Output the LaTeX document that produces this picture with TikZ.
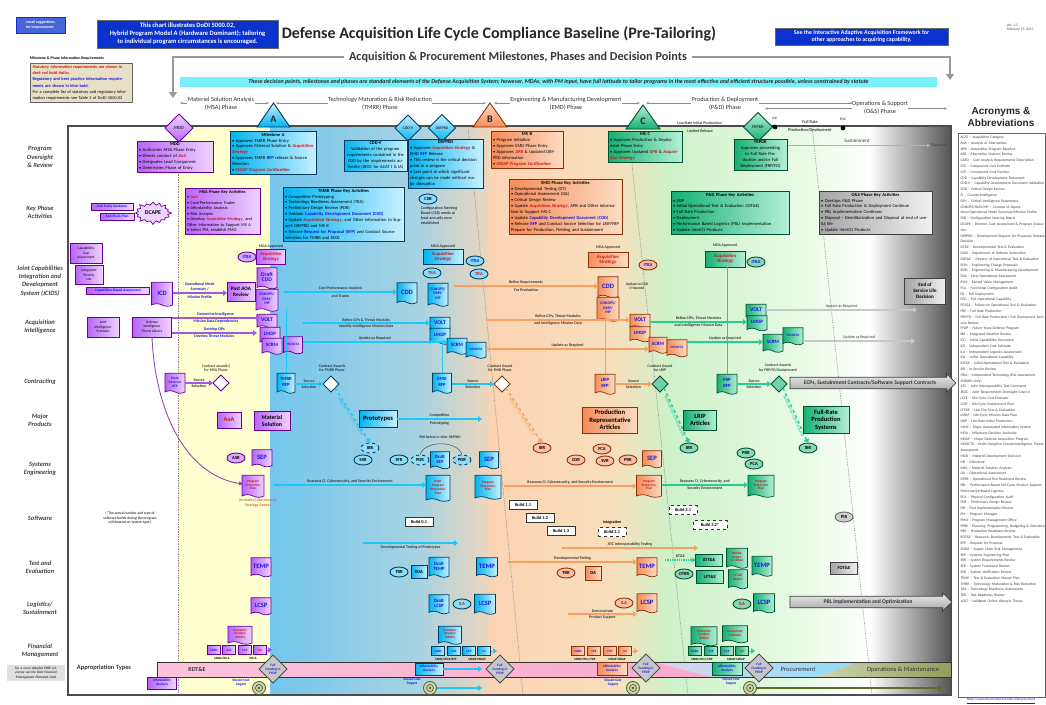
\documentclass[tikz,border=0pt]{standalone}
\usepackage{fontspec}
\setmainfont{Carlito}
\newfontfamily\arialf{Liberation Sans}
\usetikzlibrary{shapes.geometric,shapes.symbols,shapes.arrows,arrows.meta,calc}
\definecolor{pd}{RGB}{102,0,153}
\definecolor{pf}{RGB}{185,100,250}
\definecolor{pl}{RGB}{238,210,255}
\definecolor{bd}{RGB}{0,60,100}
\definecolor{bf}{RGB}{0,180,240}
\definecolor{bl}{RGB}{200,240,255}
\definecolor{od}{RGB}{140,50,10}
\definecolor{of}{RGB}{245,140,90}
\definecolor{ol}{RGB}{253,220,195}
\definecolor{gd}{RGB}{0,80,50}
\definecolor{gf}{RGB}{20,175,115}
\definecolor{gl}{RGB}{180,240,215}
\definecolor{gyf}{RGB}{165,165,165}
\definecolor{gyl}{RGB}{240,240,240}
\definecolor{rtx}{RGB}{205,20,20}
\definecolor{btx}{RGB}{20,20,225}
\definecolor{lbl}{RGB}{65,65,65}
\definecolor{navy}{RGB}{10,50,205}
\definecolor{cyanb}{RGB}{120,240,250}
\definecolor{oliv}{RGB}{115,135,45}
\definecolor{pinkb}{RGB}{250,170,205}
\definecolor{tanb}{RGB}{232,224,198}
\definecolor{bandY}{RGB}{255,255,208}
\definecolor{bandB1}{RGB}{115,198,238}
\definecolor{bandB2}{RGB}{168,211,226}
\definecolor{bandT}{RGB}{238,214,188}
\definecolor{bandO}{RGB}{252,212,180}
\definecolor{bandO2}{RGB}{248,222,188}
\definecolor{bandG1}{RGB}{205,242,200}
\definecolor{bandG2}{RGB}{232,250,228}
\definecolor{bandGr}{RGB}{85,85,85}
\definecolor{apur}{RGB}{165,85,225}
\definecolor{acy}{RGB}{30,200,245}
\definecolor{aor}{RGB}{248,160,95}
\definecolor{agr}{RGB}{40,205,150}
\newcommand\fsz[2]{\fontsize{#1}{#2}\selectfont}
\newcommand\rdt[1]{\textcolor{rtx}{\textbf{\textit{#1}}}}
\newcommand\blt[1]{\textcolor{btx}{\textbf{#1}}}
\newcommand\bul{\textbullet\ }
\newcommand\bxt[1]{\makebox[\hsize][c]{\textbf{#1}}\\}
\begin{document}
\begin{tikzpicture}[x=1pt,y=-1pt,
  every node/.style={inner sep=0.8pt, outer sep=0pt},
  base/.style={draw, line width=0.7pt, align=center},
  pbox/.style={base, draw=pd, left color=pf, right color=pl},
  bbox/.style={base, draw=bd, left color=bf, right color=bl},
  obox/.style={base, draw=od, left color=of, right color=ol},
  gbox/.style={base, draw=gd, left color=gf, right color=gl},
  gybox/.style={base, draw=black!75, left color=gyf, right color=gyl},
  docs/.style={shape=tape, tape bend top=none, tape bend bottom=out and in, tape bend height=2.5pt},
  keyb/.style={align=left, font=\fsz{4.5}{5.9}, inner sep=2pt},
  dt/.style={font=\fsz{6.6}{6.8}\bfseries, text=btx},
  dt2/.style={font=\fsz{4.7}{5.1}\bfseries, text=btx},
  dtr/.style={font=\fsz{3.4}{3.9}\bfseries, text=rtx},
  ell/.style={ellipse, draw, line width=0.9pt, inner sep=0.3pt, minimum width=18pt, minimum height=10pt, font=\fsz{4.6}{5}\bfseries},
  pell/.style={ell, draw=pd, fill=pf!55},
  bell/.style={ell, draw=bd, fill=bf!45},
  oell/.style={ell, draw=od, fill=of!55},
  gell/.style={ell, draw=gd, fill=gf!50},
  rowlab/.style={font=\fsz{6.5}{8.3}\bfseries\itshape, text=lbl, align=center},
  tiny/.style={font=\fsz{3.9}{4.6}, align=center},
  al/.style={font=\fsz{3.9}{4.6}\bfseries, text=black!80, align=center},
  alb/.style={al, text=btx},
  ar/.style={-{Triangle[length=4pt,width=5.5pt]}, line width=1.5pt},
  arP/.style={ar, draw=apur},
  arB/.style={ar, draw=acy},
  arO/.style={ar, draw=aor},
  arG/.style={ar, draw=agr},
  arGy/.style={ar, draw=black!22},
  cdia/.style={diamond, draw, line width=0.9pt, minimum size=16pt, inner sep=0pt},
  bld/.style={draw=black!80, fill=white, line width=0.7pt, font=\fsz{4.4}{5}\bfseries, minimum width=28pt, minimum height=9pt},
  ffd/.style={diamond, draw=black!70, line width=0.8pt, fill=black!22, minimum size=28pt, inner sep=0pt, font=\fsz{3.4}{3.9}\bfseries, text=btx, align=center},
  fb/.style={base, minimum width=13pt, minimum height=9pt, font=\fsz{3.2}{3.6}\bfseries, text=btx, inner sep=0.3pt},
  tgt/.style={circle, draw=oliv!70!black, line width=0.8pt, fill=oliv!35, minimum size=13pt, inner sep=0pt,
     path picture={\draw[oliv!70!black, line width=0.7pt] (path picture bounding box.center) circle (3.5pt);
                   \fill[oliv!70!black] (path picture bounding box.center) circle (1.3pt);}},
  phase/.style={fill=white, font=\fsz{6.3}{7.6}, text=black!80, align=center, inner sep=0.5pt},
  bigarr/.style={single arrow, draw=black!75, line width=0.8pt, top color=black!8, bottom color=black!35, single arrow head extend=3.5pt, inner ysep=3pt, font=\fsz{5.6}{6}\bfseries, text=black!80},
  evm/.style={midway, sloped, below=0.8pt, font=\fsz{3.1}{3.5}\bfseries, inner sep=0.3pt}
]
\useasboundingbox (0,0) rectangle (1046,704);
\fill[white] (0,0) rectangle (1046,704);

% ================= bands
\fill[bandY] (178,126) rectangle (270,695);
\shade[left color=bandB1,right color=bandB2] (270,126) rectangle (420,695);
\shade[left color=bandB2,right color=bandT] (419.5,126) rectangle (490,695);
\shade[left color=bandO,right color=bandO2] (489.5,126) rectangle (615,695);
\shade[left color=bandO2,right color=bandG1] (614.5,126) rectangle (670,695);
\shade[left color=bandG1,right color=bandG2] (669.5,126) rectangle (800,695);
\shade[left color=bandG2,right color=white] (799.5,126) rectangle (870,695);
\shade[left color=white,right color=bandGr] (869.5,126) rectangle (951,695);
\draw[black!45, densely dotted, line width=0.7pt] (178,126) -- (178,695);
\draw[black!45, densely dotted, line width=0.7pt] (468,126) -- (523,695);
\draw[black!45, densely dotted, line width=0.7pt] (628,126) -- (688,695);
\draw[black!45, densely dotted, line width=0.7pt] (812,126) -- (872,695);
\draw[black!70, line width=1.2pt] (68,126) rectangle (951,695);

% ================= header
\node[fill=navy!75, draw=navy, text=white, font=\fsz{3.9}{4.6}\bfseries, align=left, minimum width=49pt, minimum height=16pt] (email) at (40.5,25) {email suggestions\\for improvement};
\node[fill=navy, draw=black!60, text=white, font=\fsz{6.6}{7.9}\bfseries, align=center, minimum width=181pt, minimum height=28pt] (chartbox) at (187.5,34) {This chart illustrates DoDI 5000.02,\\Hybrid Program Model A (Hardware Dominant); tailoring\\to individual program circumstances is encouraged.};
\node[font=\fsz{16}{18}\bfseries, text=black!85, anchor=west] (title) at (281,34) {Defense Acquisition Life Cycle Compliance Baseline (Pre-Tailoring)};
\node[fill=navy, draw=black!60, text=white, font=\fsz{5.9}{7.1}\bfseries, align=center, minimum width=173pt, minimum height=17pt] (iaaf) at (861.5,36.5) {See the Interactive Adaptive Acquisition Framework for\\other approaches to acquiring capability.};
\node[font=\fsz{3.6}{4.3}, text=black!70, align=left, anchor=north west] (ver) at (1006,23) {Ver. 1.5\\February 15, 2017};
\node[font=\fsz{12.2}{13}\bfseries, text=black!78] (aptitle) at (518,57) {Acquisition \& Procurement Milestones, Phases and Decision Points};
\coordinate (aplt) at (173,98);
\coordinate (aprt) at (950,80);
\draw[black!40, line width=1.6pt, -{Triangle[length=6pt,width=8pt]}] ([xshift=-4pt]aptitle.west) -| (aplt);
\draw[black!40, line width=1.6pt, -{Triangle[length=6pt,width=8pt]}] ([xshift=4pt]aptitle.east) -| (aprt);
\node[fill=cyanb, minimum width=757pt, minimum height=10pt, font=\fsz{5.9}{6.5}\bfseries\itshape, text=black!85] (banner) at (558.5,82) {These decision points, milestones and phases are standard elements of the Defense Acquisition System; however, MDAs, with PM input, have full latitude to tailor programs in the most effective and efficient structure possible, unless constrained by statute};

\node[font=\fsz{3.9}{4.6}\bfseries, anchor=west] (mpirT) at (29,58) {Milestone \& Phase Information Requirements};
\node[draw=black!60, line width=0.9pt, fill=tanb, anchor=north west, text width=97pt, align=left, font=\fsz{4.3}{6.2}, inner sep=2.5pt] (mpir) at (30,63) {\rdt{Statutory information requirements are shown in dark red bold italics.}\\\blt{Regulatory and best practice information requirements are shown in blue bold.}\\For a complete list of statutory and regulatory information requirements see Table 2 of DoDI 5000.02};

% phase headers
\draw[black!45, line width=0.6pt, {Stealth[length=3pt]}-{Stealth[length=3pt]}] (180,103) -- (269,103);
\draw[black!45, line width=0.6pt, {Stealth[length=3pt]}-{Stealth[length=3pt]}] (276,103) -- (486,103);
\draw[black!45, line width=0.6pt, {Stealth[length=3pt]}-{Stealth[length=3pt]}] (494,103) -- (640,103);
\draw[black!45, line width=0.6pt, {Stealth[length=3pt]}-{Stealth[length=3pt]}] (646,103) -- (853,103);
\draw[black!45, line width=0.6pt, {Stealth[length=3pt]}-{Stealth[length=3pt]}] (765,108.5) -- (947,108.5);
\node[phase] (phMSA) at (221,104) {Materiel Solution Analysis\\(MSA) Phase};
\node[phase] (phTMRR) at (380,104) {Technology Maturation \& Risk Reduction\\(TMRR) Phase};
\node[phase] (phEMD) at (566,104) {Engineering \& Manufacturing Development\\(EMD) Phase};
\node[phase] (phPD) at (725,104) {Production \& Deployment\\(P\&D) Phase};
\node[phase] (phOS) at (880,108) {Operations \& Support\\(O\&S) Phase};

% milestones
\draw[bd, line width=0.9pt, top color=bl, bottom color=bf] (257,127) -- (273.5,103) -- (290,127) -- cycle;
\node[font=\fsz{10}{10}\bfseries, text=black!85] (msA) at (273.5,119) {A};
\draw[od, line width=0.9pt, top color=ol, bottom color=of] (473,127) -- (490,103) -- (507,127) -- cycle;
\node[font=\fsz{10}{10}\bfseries, text=black!85] (msB) at (490,119) {B};
\draw[gd, line width=0.9pt, top color=gl, bottom color=gf] (626,129) -- (643,105) -- (660,129) -- cycle;
\node[font=\fsz{10}{10}\bfseries, text=black!85] (msC) at (643,121) {C};
\node[diamond, draw=pd, line width=0.9pt, top color=pl, bottom color=pf, minimum size=28pt, inner sep=0pt, font=\fsz{4.6}{5}\bfseries, text=black!80] (mdd) at (179,128) {MDD};
\node[diamond, draw=bd, line width=0.9pt, top color=bl, bottom color=bf, minimum size=26pt, inner sep=0pt, font=\fsz{4}{4.5}\bfseries, text=black!80] (cddv) at (408,128) {CDD-V};
\node[diamond, draw=bd, line width=0.9pt, top color=bl, bottom color=bf, minimum size=27pt, inner sep=0pt, font=\fsz{3.7}{4.2}\bfseries, text=black!80] (drfprd) at (442,128) {DRFPRD};
\node[diamond, draw=gd, line width=0.9pt, top color=gl, bottom color=gf, minimum size=29pt, inner sep=0pt, font=\fsz{4.2}{4.7}\bfseries, text=black!80] (frpdr) at (758,127) {FRPDR};
\fill[black] (775,127) circle (2.4pt);
\node[tiny, font=\fsz{3.5}{4}] (ioc) at (775,118) {IOC};
\fill[black] (843,128) circle (2.4pt);
\node[tiny, font=\fsz{3.5}{4}] (foc) at (843,119) {FOC};
\node[tiny, font=\fsz{4}{7.5}] (lrip) at (700,127) {Low-Rate Initial Production/\\Limited Release};
\node[tiny, font=\fsz{4.4}{8}] (frpd) at (810,126) {Full Rate\\Production/Deployment};
\node[tiny, font=\fsz{5}{6}, text=black!75] (sust) at (857,141) {Sustainment};
\node[tiny, font=\fsz{4.5}{5}, text=black!75, anchor=west] (disp) at (930,145.5) {Disposal};
\draw[black!30, line width=1pt, -{Triangle[length=3pt,width=4pt]}] ([xshift=14pt]frpdr.east |- disp) -- (disp.west);

% ================= row labels
\node[rowlab] (rl1) at (40,157) {Program\\Oversight\\\& Review};
\node[rowlab] (rl2) at (40,212) {Key Phase\\Activities};
\node[rowlab] (rl3) at (40,281) {Joint Capabilities\\Integration and\\Development\\System (JCIDS)};
\node[rowlab] (rl4) at (40,327) {Acquisition\\Intelligence};
\node[rowlab] (rl5) at (40,382) {Contracting};
\node[rowlab] (rl6) at (40,420) {Major\\Products};
\node[rowlab] (rl7) at (40,469) {Systems\\Engineering};
\node[rowlab] (rl8) at (40,518) {Software};
\node[rowlab] (rl9) at (40,567) {Test and\\Evaluation};
\node[rowlab] (rl10) at (40,608) {Logistics/\\Sustainment};
\node[rowlab] (rl11) at (40,651) {Financial\\Management};
\node[fill=black!12, text width=54pt, align=center, font=\fsz{3.4}{4.4}\itshape, inner sep=2pt] (ppbe) at (36,673) {For a more detailed PPBE reference see the DAU Financial Management Placemat Card};

% ================= acronyms
\node[font=\arialf\fsz{10}{11.5}\bfseries, text=black!85, align=center] (acrT) at (1001,117) {Acronyms \&\\Abbreviations};
\draw[black!60, line width=0.6pt] (958,133) rectangle (1045,697);
\node[anchor=north west, text width=85pt, align=left, font=\fsz{3.7}{5.8}, text=black!75, inner sep=1pt] (acr) at (959.5,135) {ACAT -- Acquisition Category\\AoA -- Analysis of Alternatives\\APB -- Acquisition Program Baseline\\ASR -- Alternative Systems Review\\CARD -- Cost Analysis Requirements Description\\CCE -- Component Cost Estimate\\CCP -- Component Cost Position\\CDD -- Capability Development Document\\CDD-V -- Capability Development Document Validation\\CDR -- Critical Design Review\\CI -- Counterintelligence\\CIPs -- Critical Intelligence Parameters\\CONOPS/OMS/MP -- Concept of Operations/Operational Mode Summary/Mission Profile\\CSB -- Configuration Steering Board\\DCAPE -- Director, Cost Assessment \& Program Evaluation\\DRFPRD -- Development Request for Proposals Release Decision\\DT\&E -- Developmental Test \& Evaluation\\DoDI -- Department of Defense Instruction\\DOT\&E -- Director of Operational Test \& Evaluation\\ECPs -- Engineering Change Proposals\\EMD -- Engineering \& Manufacturing Development\\EOA -- Early Operational Assessment\\EVM -- Earned Value Management\\FCA -- Functional Configuration Audit\\FD -- Full Deployment\\FOC -- Full Operational Capability\\FOT\&E -- Follow-on Operational Test \& Evaluation\\FRP -- Full Rate Production\\FRP/FD -- Full Rate Production / Full Deployment Decision Review\\FYDP -- Future Years Defense Program\\IBR -- Integrated Baseline Review\\ICD -- Initial Capabilities Document\\ICE -- Independent Cost Estimate\\ILA -- Independent Logistics Assessment\\IOC -- Initial Operational Capability\\IOT\&E -- Initial Operational Test \& Evaluation\\ISR -- In-Service Review\\ITRA -- Independent Technology Risk Assessment (MDAPs Only)\\JITC -- Joint Interoperability Test Command\\JROC -- Joint Requirements Oversight Council\\LCCE -- Life-Cycle Cost Estimate\\LCSP -- Life-Cycle Sustainment Plan\\LFT\&E -- Live Fire Test \& Evaluation\\LMDP -- Life-Cycle Mission Data Plan\\LRIP -- Low-Rate Initial Production\\MAIS -- Major Automated Information System\\MDA -- Milestone Decision Authority\\MDAP -- Major Defense Acquisition Program\\MDOCTA -- Multi-Discipline Counterintelligence Threat Assessment\\MDD -- Materiel Development Decision\\MS -- Milestone\\MSA -- Materiel Solution Analysis\\OA -- Operational Assessment\\OTRR -- Operational Test Readiness Review\\PBL -- Performance-Based Life-Cycle Product Support, Performance-Based Logistics\\PCA -- Physical Configuration Audit\\PDR -- Preliminary Design Review\\PIR -- Post Implementation Review\\PM -- Program Manager\\PMO -- Program Management Office\\PPBE -- Planning, Programming, Budgeting \& Execution\\PRR -- Production Readiness Review\\RDT\&E -- Research, Development, Test \& Evaluation\\RFP -- Request for Proposal\\SCRM -- Supply Chain Risk Management\\SEP -- Systems Engineering Plan\\SRR -- System Requirements Review\\SFR -- System Functional Review\\SVR -- System Verification Review\\TEMP -- Test \& Evaluation Master Plan\\TMRR -- Technology Maturation \& Risk Reduction\\TRA -- Technology Readiness Assessment\\TRR -- Test Readiness Review\\VOLT -- Validated Online Lifecycle Threat};
\node[font=\fsz{3.4}{4}, text=btx] (url) at (1001,701) {\underline{https://www.dau.mil/tools/t/DAU-Lifecycle-Chart}};

% ================= Program oversight
\node[pbox, keyb, anchor=north west, text width=72pt] (mddbox) at (137,141) {\bxt{MDD}\bul Authorizes MSA Phase Entry\\\bul Directs conduct of \rdt{AoA}\\\bul Designates Lead Component\\\bul Determines Phase of Entry};
\node[bbox, keyb, anchor=north west, text width=82pt] (msabox) at (230,131) {\bxt{Milestone A}\bul Approves TMRR Phase Entry\\\bul Approves Material Solution \& \rdt{Acquisition Strategy}\\\bul Approves TMRR \blt{RFP} release \& Source Selection\\\bul \rdt{MDAP Program Certification}};
\node[bbox, keyb, align=center, anchor=north west, text width=59pt] (cddvbox) at (344,140) {\textbf{CDD-V}\\Validation of the program requirements contained in the CDD by the requirements authority (JROC for ACAT I \& IA)};
\node[bbox, keyb, anchor=north west, text width=71pt] (drfbox) at (408,139) {\bxt{DRFPRD}\bul Approves \rdt{Acquisition Strategy} \& EMD \blt{RFP} Release\\\bul This review is the critical decision point in a program\\\bul Last point at which significant changes can be made without major disruption};
\node[bell, font=\fsz{4.6}{5}\bfseries] (csb) at (428,199) {CSB};
\node[tiny, align=left, anchor=north west, font=\fsz{4}{5}] (csbt) at (420,206) {Configuration Steering\\Board (CSB) meets at\\least annually once\\established};
\node[obox, keyb, anchor=north west, text width=68pt] (msbbox) at (491,131) {\bxt{MS B}\bul Program Initiation\\\bul Approves EMD Phase Entry\\\bul Approves \rdt{APB} \& Updated DRFPRD information\\\bul \rdt{MDAP Program Certification}};
\node[gbox, keyb, anchor=north west, text width=70pt] (mscbox) at (608,131) {\bxt{MS C}\bul Approves Production \& Deployment Phase Entry\\\bul Approves Updated \rdt{APB} \& \rdt{Acquisition Strategy}};
\node[gbox, keyb, align=center, anchor=north west, text width=49pt] (frpbox) at (734,139) {\textbf{FRPDR}\\Approves proceeding to Full Rate Production and/or Full Deployment (FRP/FD)};

% ================= Key phase activities
\node[pbox, font=\fsz{3.6}{4.2}\bfseries, text=btx, minimum width=42pt, minimum height=7pt] (aoasg) at (112,207) {AoA Study Guidance};
\node[pbox, font=\fsz{3.6}{4.2}\bfseries, text=btx, minimum width=34pt, minimum height=7pt] (aoasp) at (117,216.5) {AoA Study Plan};
\node[starburst, starburst points=16, starburst point height=4pt, draw=pd, line width=0.7pt, fill=pl, minimum width=38pt, minimum height=24pt, inner sep=0pt, font=\fsz{5.8}{6}\bfseries] (dcape) at (153,213) {DCAPE};
\node[pbox, keyb, font=\fsz{4.3}{5.5}, anchor=north west, text width=71pt] (msakey) at (185,188) {\bxt{MSA Phase Key Activities}\bul \rdt{AoA}\\\bul Cost/Performance Trades\\\bul Affordability Analysis\\\bul Risk Analysis\\\bul Develop \rdt{Acquisition Strategy}, and Other Information to Support MS A\\\bul Select PM, establish PMO};
\node[bbox, keyb, anchor=north west, text width=117pt] (tmrrkey) at (283,187) {\bxt{TMRR Phase Key Activities}\bul Competitive Prototyping\\\bul Technology Readiness Assessment (TRA)\\\bul Preliminary Design Review (PDR)\\\bul Validate \blt{Capability Development Document (CDD)}\\\bul Update \rdt{Acquisition Strategy}, and Other Information to Support DRFPRD and MS B\\\bul Release \blt{Request for Proposal (RFP)} and Conduct Source Selection for TMRR and EMD};
\node[obox, keyb, anchor=north west, text width=109pt] (emdkey) at (509,179) {\bxt{EMD Phase Key Activities}\bul Developmental Testing (DT)\\\bul Operational Assessment (OA)\\\bul Critical Design Review\\\bul Update \rdt{Acquisition Strategy}, APB and Other Information to Support MS C\\\bul Update \blt{Capability Development Document (CDD)}\\\bul Release \blt{RFP} and Conduct Source Selection for LRIP/FRP Prepare for Production, Fielding and Sustainment};
\node[gbox, keyb, anchor=north west, text width=114pt] (pdkey) at (671,191) {\bxt{P\&D Phase Key Activities}\bul LRIP\\\bul Initial Operational Test \& Evaluation (IOT\&E)\\\bul Full Rate Production\\\bul Deployment\\\bul Performance Based Logistics (PBL) Implementation\\\bul Update Intel/CI Products};
\node[gybox, keyb, anchor=north west, text width=109pt] (oskey) at (819,191) {\bxt{O\&S Phase Key Activities}\bul Overlaps P\&D Phase\\\bul Full Rate Production \& Deployment Continue\\\bul PBL Implementation Continues\\\bul Disposal -- Demilitarization and Disposal at end of useful life\\\bul Update Intel/CI Products};

% ================= JCIDS
\node[pbox, font=\fsz{3.6}{4.3}, minimum width=32pt, minimum height=20pt] (capgap) at (86,253) {Capabilities\\Gap\\Assessment};
\node[pbox, font=\fsz{3.6}{4.3}, minimum width=28pt, minimum height=19pt] (ipl) at (89,275) {Integrated\\Priority\\List};
\node[pbox, font=\fsz{3.6}{4.2}\bfseries, text=btx, minimum width=63pt, minimum height=7pt] (cba) at (118,291) {Capabilities Based Assessment};
\node[pbox, docs, dt, minimum width=21pt, minimum height=24pt] (icd) at (162,293) {ICD};
\node[pbox, font=\fsz{5.2}{6}\bfseries, minimum width=28pt, minimum height=19pt] (postaoa) at (241,292) {Post AOA\\Review};
\draw[arP] (icd.east) -- (icd.east -| postaoa.west) node[midway, above=1.5pt, alb] {Operational Mode\\Summary /} node[midway, below=1.5pt, alb] {Mission Profile};
\node[pell, text=btx] (itraP) at (247,257) {ITRA};
\node[tiny] (mdaP) at (271,246) {MDA Approved};
\node[pbox, font=\fsz{4.6}{5}, minimum width=29pt, minimum height=15pt] (acqP) at (271,257) {\rdt{Acquisition}\\\rdt{Strategy}};
\node[pbox, docs, dt2, font=\fsz{5.6}{5.8}\bfseries, minimum width=20pt, minimum height=21pt] (dcddP) at (267,277) {Draft\\CDD};
\node[pbox, docs, dt2, font=\fsz{3.9}{4.4}\bfseries, minimum width=22pt, minimum height=22pt] (conP) at (267,299) {CONOPS/\\OMS/\\MP};
\node[bbox, docs, dt, minimum width=20pt, minimum height=21pt] (cddB) at (407,292) {CDD};
\node[bbox, docs, dt2, font=\fsz{3.9}{4.4}\bfseries, minimum width=20pt, minimum height=23pt] (conB) at (438,293.5) {CONOPS/\\OMS/\\MP};
\draw[arB] ([xshift=6pt]conP.east |- cddB.west) -- (cddB.west) node[midway, above=1.5pt, al] {Cost-Performance Analysis} node[midway, below=1.5pt, al] {and Trades};
\node[tiny] (mdaB) at (443,246) {MDA Approved};
\node[bbox, font=\fsz{4.8}{5.2}, minimum width=40pt, minimum height=15pt] (acqB) at (443,257) {\rdt{Acquisition}\\\rdt{Strategy}};
\node[bell, text=btx] (itraB) at (475,261) {ITRA};
\node[bell, text=rtx] (traB1) at (432,273) {TRA};
\node[bell, text=rtx] (traB2) at (479,274) {TRA};
\node[tiny] (mdaO) at (608,247) {MDA Approved};
\node[obox, font=\fsz{4.8}{5.2}, minimum width=40pt, minimum height=15pt] (acqO) at (608,260) {\rdt{Acquisition}\\\rdt{Strategy}};
\node[oell, text=btx] (itraO) at (648,265) {ITRA};
\node[obox, docs, dt, minimum width=20pt, minimum height=21pt] (cddO) at (608,286) {CDD};
\node[obox, docs, dt2, font=\fsz{3.9}{4.4}\bfseries, minimum width=22pt, minimum height=24pt] (conO) at (608,308) {CONOPS/\\OMS/\\MP};
\node[tiny, font=\fsz{3.7}{4.5}] (updcdd) at (637,286) {Update to CDD\\if Needed};
\draw[arO] ([xshift=6pt]conB.east |- cddO.west) -- (cddO.west) node[midway, above=1.5pt, al] {Refine Requirements} node[midway, below=1.5pt, al] {For Production};
\node[tiny] (mdaG) at (725,245) {MDA Approved};
\node[gbox, font=\fsz{4.8}{5.2}, minimum width=40pt, minimum height=16pt] (acqG) at (725,259) {\rdt{Acquisition}\\\rdt{Strategy}};
\node[gell, text=btx] (itraG) at (756,262) {ITRA};
\node[gybox, font=\fsz{5}{6}\bfseries, minimum width=41pt, minimum height=26pt] (eosl) at (925,291) {End of\\Service Life\\Decision};

% ================= Acquisition intelligence
\node[pbox, font=\fsz{3.6}{4.3}, minimum width=32pt, minimum height=20pt] (jie) at (103,327) {Joint\\Intelligence\\Estimate};
\node[pbox, font=\fsz{3.6}{4.3}, minimum width=39pt, minimum height=20pt] (ditl) at (152,327) {Defense\\Intelligence\\Threat Library};
\node[pbox, docs, dt, font=\fsz{5.6}{6}\bfseries, minimum width=20pt, minimum height=14pt] (voltP) at (267,320) {VOLT};
\node[pbox, docs, dt, font=\fsz{5}{6}\bfseries, minimum width=20pt, minimum height=16pt] (lmdpP) at (270,334) {LMDP};
\node[pbox, docs, dt, font=\fsz{5}{6}\bfseries, minimum width=20pt, minimum height=16pt] (scrmP) at (272,345) {SCRM};
\node[pbox, docs, dt, font=\fsz{3.4}{4}\bfseries, minimum width=19pt, minimum height=17pt] (mdoP) at (293,344) {MDOCTA};
\draw[arP] ([yshift=-6pt]ditl.east) -- ([yshift=-6pt]ditl.east -| voltP.west) node[midway, above=1pt, alb] {Develop CIPs} node[midway, below=1pt, alb] {Develop Threat Modules};
\draw[arP] ([yshift=9pt]ditl.east) -- ([yshift=9pt]ditl.east -| lmdpP.west) node[midway, above=1pt, alb] {Determine Intelligence} node[midway, below=1pt, alb] {Mission Data Dependencies};
\node[bbox, docs, dt, font=\fsz{5.6}{6}\bfseries, minimum width=20pt, minimum height=14pt] (voltB) at (440,323) {VOLT};
\node[bbox, docs, dt, font=\fsz{5}{6}\bfseries, minimum width=20pt, minimum height=16pt] (lmdpB) at (440,335) {LMDP};
\node[bbox, docs, dt, font=\fsz{5}{6}\bfseries, minimum width=20pt, minimum height=16pt] (scrmB) at (457,345) {SCRM};
\node[bbox, docs, dt, font=\fsz{3.4}{4}\bfseries, minimum width=20pt, minimum height=16pt] (mdoB) at (476,349) {MDOCTA};
\draw[arB] (mdoP.east |- voltB.west) -- (voltB.west) node[midway, above=1pt, al] {Refine CIPs \& Threat Modules} node[midway, below=1pt, al] {Identify Intelligence Mission Data};
\draw[arB] ([yshift=2pt]mdoP.east) -- ([yshift=2pt]mdoP.east -| scrmB.west) node[midway, above=1pt, al] {Update as Required};
\node[obox, docs, dt, font=\fsz{5.6}{6}\bfseries, minimum width=20pt, minimum height=14pt] (voltO) at (640,320) {VOLT};
\node[obox, docs, dt, font=\fsz{5}{6}\bfseries, minimum width=20pt, minimum height=15pt] (lmdpO) at (640,333) {LMDP};
\node[obox, docs, dt, font=\fsz{5}{6}\bfseries, minimum width=18pt, minimum height=16pt] (scrmO) at (658,344) {SCRM};
\node[obox, docs, dt, font=\fsz{3.4}{4}\bfseries, minimum width=20pt, minimum height=17pt] (mdoO) at (677,347) {MDOCTA};
\draw[arO] (mdoB.east |- voltO.west) -- (voltO.west) node[midway, above=1pt, al] {Refine CIPs, Threat Modules} node[midway, below=1pt, al] {and Intelligence Mission Data};
\draw[arO] (mdoB.east) -- (mdoB.east -| scrmO.west) node[midway, above=1pt, al] {Update as Required};
\node[gbox, docs, dt, font=\fsz{5.6}{6}\bfseries, minimum width=20pt, minimum height=14pt] (voltG) at (756,310) {VOLT};
\node[gbox, docs, dt, font=\fsz{5}{6}\bfseries, minimum width=20pt, minimum height=15pt] (lmdpG) at (757,322) {LMDP};
\node[gbox, docs, dt, font=\fsz{5}{6}\bfseries, minimum width=20pt, minimum height=18pt] (scrmG) at (773,342) {SCRM};
\node[gbox, docs, dt, font=\fsz{3.4}{4}\bfseries, minimum width=20pt, minimum height=17pt] (mdoG) at (793,335) {MDOCTA};
\draw[arG] (lmdpO.east |- lmdpG.west) -- (lmdpG.west) node[midway, above=1pt, al] {Refine CIPs, Threat Modules} node[midway, below=1pt, al] {and Intelligence Mission Data};
\draw[arG] (mdoO.east |- scrmG.west) -- (scrmG.west) node[midway, above=1pt, al] {Update as Required};
\coordinate (uar1) at (917,310);
\coordinate (uar2) at (915,341);
\draw[arGy] (voltG.east) -- (uar1) node[midway, above=1pt, al, text=black!60] {Update as Required};
\draw[arGy] (mdoG.east |- uar2) -- (uar2) node[midway, above=1pt, al, text=black!60] {Update as Required};
\draw[pd!70, line width=0.9pt, -{Triangle[length=4pt,width=4pt]}] (ditl.south) .. controls (155,410) and (185,475) .. (243,484);

% ================= Contracting
\node[pbox, docs, font=\fsz{3.5}{4}\bfseries, text=btx, minimum width=20pt, minimum height=20pt] (scRFP) at (175,382) {Study\\Contract\\RFP};
\node[cdia, draw=pd, fill=white] (dMSA) at (221,383) {};
\draw[arP] (scRFP.east |- dMSA) -- (dMSA.west) node[midway, above=1pt, al] {Source} node[midway, below=1pt, al] {Selection};
\node[tiny] (cMSA) at (216,368) {Contract award(s)\\for MSA Phase};
\node[bbox, docs, dt2, minimum width=18pt, minimum height=20pt] (tmrrRFP) at (286,382) {TMRR\\RFP};
\node[cdia, draw=bd, fill=white] (dTMRR) at (331,384) {};
\draw[arB] (tmrrRFP.east |- dTMRR) -- (dTMRR.west) node[midway, above=1pt, al] {Source} node[midway, below=1pt, al] {Selection};
\node[tiny] (cTMRR) at (332,368) {Contract Awards\\for TMRR Phase};
\node[bbox, docs, dt2, minimum width=19pt, minimum height=20pt] (emdRFP) at (442,382) {EMD\\RFP};
\node[cdia, draw=od, fill=white] (dEMD) at (502,384) {};
\draw[arB] (emdRFP.east |- dEMD) -- (dEMD.west) node[midway, above=1pt, al] {Source} node[midway, below=1pt, al] {Selection};
\node[tiny] (cEMD) at (500,368) {Contract Award\\for EMD Phase};
\node[obox, docs, dt2, minimum width=20pt, minimum height=20pt] (lripRFP) at (605,383) {LRIP\\RFP};
\node[cdia, draw=gd, fill=gf!60] (dLRIP) at (660,384) {};
\draw[arO] (lripRFP.east |- dLRIP) -- (dLRIP.west) node[midway, above=1pt, al] {Source} node[midway, below=1pt, al] {Selection};
\node[tiny] (cLRIP) at (660,368) {Contract Award\\for LRIP};
\node[gbox, docs, dt2, minimum width=20pt, minimum height=20pt] (frpRFP) at (727,383) {FRP\\RFP};
\node[cdia, draw=gd, fill=gf!60] (dFRP) at (779,384) {};
\draw[arG] (frpRFP.east |- dFRP) -- (dFRP.west) node[midway, above=1pt, al] {Source} node[midway, below=1pt, al] {Selection};
\node[tiny] (cFRP) at (778,368) {Contract Awards\\for FRP/FD/Sustainment};
\node[bigarr, minimum height=166pt] (ecps) at (870,383) {ECPs, Sustainment Contracts/Software Support Contracts};
\draw[acy, line width=0.7pt] (tmrrRFP.north) -- (tmrrRFP.north |- conP.south);
\draw[acy, line width=0.7pt] (emdRFP.north) -- (emdRFP.north |- lmdpB.south);
\draw[aor, line width=0.7pt] (lripRFP.north) -- (lripRFP.north |- conO.south);
\draw[agr, line width=0.7pt] (frpRFP.north) -- (frpRFP.north |- acqG.south);

% ================= IBR ellipses and EVM arrows
\node[bell, dashed] (ibrB) at (370,448) {IBR};
\node[oell] (ibrO) at (542,448) {IBR};
\node[gell] (ibrG1) at (689,448) {IBR};
\node[gell] (ibrG2) at (808,448) {IBR};
\draw[acy, line width=1.5pt, dashed, -{Triangle[length=4pt,width=5.5pt]}] (dTMRR.south east) -- (ibrB.north) node[evm] {Within 180 Days if EVM is Required};
\draw[aor, line width=1.5pt, dashed, -{Triangle[length=4pt,width=5.5pt]}] (dEMD.south east) -- (ibrO.north) node[evm] {Within 180 Days if EVM is Required};
\draw[agr, line width=1.5pt, dashed, -{Triangle[length=4pt,width=5.5pt]}] (dLRIP.south east) -- (ibrG1.north) node[evm] {Within 180 Days if EVM is Required};
\draw[agr, line width=1.5pt, dashed, -{Triangle[length=4pt,width=5.5pt]}] (dFRP.south east) -- (ibrG2.north) node[evm] {Within 180 Days if EVM is Required};

% ================= Major products
\node[pbox, font=\fsz{6.2}{7}\bfseries, text=rtx, minimum width=24pt, minimum height=16pt] (aoaP) at (229,420) {AoA};
\node[pbox, font=\fsz{5.8}{6.6}\bfseries, minimum width=36pt, minimum height=19pt] (msP) at (272,421) {Material\\Solution};
\node[bbox, font=\fsz{6.6}{7}\bfseries, minimum width=38pt, minimum height=17pt] (protoB) at (378,419) {Prototypes};
\coordinate (cpEnd) at (482,419);
\draw[arB] (protoB.east) -- (cpEnd) node[midway, above=1.5pt, al] {Competitive} node[midway, below=1.5pt, al] {Prototyping};
\node[obox, font=\fsz{6.6}{7.6}\bfseries, minimum width=55pt, minimum height=26pt] (prodO) at (610,420) {Production\\Representative\\Articles};
\node[gbox, font=\fsz{6.4}{7.2}\bfseries, minimum width=33pt, minimum height=20pt] (lripA) at (700,420) {LRIP\\Articles};
\node[gbox, font=\fsz{6.4}{7.4}\bfseries, minimum width=46pt, minimum height=27pt] (frpS) at (826,420) {Full-Rate\\Production\\Systems};

% ================= Systems engineering
\node[pell] (asrP) at (236,458) {ASR};
\node[pbox, docs, dt, minimum width=20pt, minimum height=17pt] (sepP) at (262,457) {SEP};
\node[pbox, docs, dtr, minimum width=22pt, minimum height=22pt] (pppP) at (253,485) {Program\\Protection\\Plan};
\node[tiny, text=of!80!black, font=\fsz{3.9}{4.6}\bfseries] (pppPt) at (258,503) {(Includes Cybersecurity\\Strategy Annex)};
\node[bell] (srrB) at (363,460) {SRR};
\node[bell] (sfrB) at (399,460) {SFR};
\node[bell, dashed] (pdrB1) at (420,460) {PDR};
\node[bbox, docs, dt2, minimum width=19pt, minimum height=17pt] (dsepB) at (440,459) {Draft\\SEP};
\node[bell, dashed] (pdrB2) at (462,460) {PDR};
\draw[black!70, line width=0.5pt] (pdrB1.north) .. controls (424,440) and (458,440) .. (pdrB2.north);
\node[tiny, font=\fsz{3.6}{4}] (pdrT) at (440,437) {PDR Before or After DRFPRD};
\node[bbox, docs, dt, minimum width=19pt, minimum height=17pt] (sepB) at (489,459) {SEP};
\node[bbox, docs, dtr, minimum width=24pt, minimum height=26pt] (pppDB) at (438,487) {Draft\\Program\\Protection\\Plan};
\node[bbox, docs, dtr, minimum width=26pt, minimum height=24pt] (pppB) at (488,486) {Program\\Protection\\Plan};
\draw[arB] ([xshift=10pt]pppP.east) -- (pppP.east -| pppDB.west) node[midway, above=1pt, al] {Reassess CI, Cybersecurity, and Security Environment};
\node[oell] (cdrO) at (576,460) {CDR};
\node[oell] (fcaO) at (602,449) {FCA};
\node[oell] (svrO) at (605,461) {SVR};
\node[oell] (prrO) at (628,460) {PRR};
\node[obox, docs, dt, minimum width=19pt, minimum height=17pt] (sepO) at (652,458) {SEP};
\node[obox, docs, dtr, minimum width=25pt, minimum height=22pt] (pppO) at (649,485) {Program\\Protection\\Plan};
\draw[arO] ([xshift=3pt]pppB.east) -- (pppB.east -| pppO.west) node[midway, above=1pt, al] {Reassess CI, Cybersecurity, and Security Environment};
\node[gell] (prrG) at (746,453) {PRR};
\node[gell] (pcaG) at (754,464) {PCA};
\node[gbox, docs, dtr, minimum width=26pt, minimum height=22pt] (pppG) at (761,485) {Program\\Protection\\Plan};
\draw[arG] (pppO.east) -- (pppO.east -| pppG.west) node[midway, above=1pt, al] {Reassess CI, Cybersecurity, and} node[midway, below=1pt, al] {Security Environment};

% ================= Software
\node[tiny, font=\fsz{3.7}{4.6}] (swnote) at (130,518) {(*The actual number and type of\\software builds during the program\\will depend on system type.)};
\node[bld] (b01) at (419,522) {Build 0.1};
\node[bld] (b11) at (523,505) {Build 1.1};
\node[bld] (b12) at (540,518) {Build 1.2};
\node[bld] (b13) at (561,531) {Build 1.3};
\node[tiny, font=\fsz{4}{4.5}\bfseries] (integ) at (612,522) {Integration};
\node[bld, dashed] (b21) at (612,532) {Build 2.1};
\node[bld, dashed] (b31) at (683,510) {Build 3.1};
\node[bld, dashed, minimum width=34pt] (b32) at (710,525) {Build 3.2*};
\node[ell, draw=black!60, fill=black!20] (pir) at (844,517) {PIR};

% ================= Test & evaluation
\coordinate (dtp1) at (363,543);
\coordinate (dtp2) at (458,543);
\draw[arB] (dtp1) -- (dtp2) node[midway, below=1.5pt, al] {Developmental Testing of Prototypes};
\coordinate (jitc1) at (562,548);
\coordinate (jitc2) at (698,548);
\draw[arO] (jitc1) -- (jitc2) node[midway, above=1pt, al] {JITC Interoperability Testing};
\node[pbox, docs, dt, minimum width=20pt, minimum height=19pt] (tempP) at (261,566) {TEMP};
\node[bell] (trrB) at (399,572) {TRR};
\node[bbox, font=\fsz{4.6}{5}\bfseries, minimum width=16pt, minimum height=13pt] (eoaB) at (419,572) {EOA};
\node[bbox, docs, dt2, minimum width=20pt, minimum height=20pt] (dtempB) at (439,566) {Draft\\TEMP};
\node[bbox, docs, dt, minimum width=21pt, minimum height=19pt] (tempB) at (487,566) {TEMP};
\node[oell] (trrO) at (566,573) {TRR};
\node[obox, font=\fsz{4.6}{5}\bfseries, minimum width=16pt, minimum height=14pt] (oaO) at (593,573) {OA};
\node[obox, docs, dt, minimum width=20pt, minimum height=19pt] (tempO) at (647,566) {TEMP};
\coordinate (dt1) at (508,562);
\draw[arO] (dt1) -- (dt1 -| tempO.west) node[midway, above=1pt, al] {Developmental Testing};
\node[gell] (otrr) at (684,574) {OTRR};
\node[gbox, font=\fsz{4.6}{5}\bfseries, minimum width=27pt, minimum height=12pt] (iote) at (709,560) {IOT\&E};
\node[gbox, font=\fsz{4.6}{5}\bfseries, minimum width=27pt, minimum height=13pt] (lfte) at (710,577) {LFT\&E};
\node[gbox, docs, dtr, font=\fsz{3.2}{3.7}\bfseries, minimum width=21pt, minimum height=20pt] (dote) at (737,557) {DOT\&E\\Report\\on IOT\&E};
\node[gbox, docs, dtr, minimum width=19pt, minimum height=19pt] (lfter) at (738,578) {LFT\&E\\Report};
\node[gbox, docs, dt, minimum width=20pt, minimum height=20pt] (tempG) at (762,565) {TEMP};
\draw[agr, line width=1.3pt, densely dotted, -{Triangle[length=4pt,width=5pt]}] ([xshift=8pt]tempO.east |- iote.west) -- (iote.west) node[midway, above=2pt, al] {DT\&E};
\node[gybox, font=\fsz{4.6}{5}\bfseries, minimum width=27pt, minimum height=12pt] (fote) at (844,568) {FOT\&E};

% ================= Logistics
\node[pbox, docs, dt, minimum width=20pt, minimum height=17pt] (lcspP) at (261,605) {LCSP};
\node[bbox, docs, dt2, minimum width=20pt, minimum height=19pt] (dlcspB) at (439,603) {Draft\\LCSP};
\node[bell, text=rtx] (ilaB) at (462,604) {ILA};
\node[bbox, docs, dt, minimum width=21pt, minimum height=20pt] (lcspB) at (485,603) {LCSP};
\node[oell, text=rtx] (ilaO) at (624,603) {ILA};
\node[obox, docs, dt, minimum width=20pt, minimum height=19pt] (lcspO) at (647,602) {LCSP};
\coordinate (dps1) at (568,614);
\draw[arO] (dps1) -- (dps1 -| lcspO.west) node[midway, above=1pt, al] {Demonstrate} node[midway, below=1pt, al] {Product Support};
\node[gell, text=rtx] (ilaG) at (742,604) {ILA};
\node[gbox, docs, dt, minimum width=21pt, minimum height=19pt] (lcspG) at (764,602) {LCSP};
\node[bigarr, minimum height=162pt] (pbl) at (868,602) {PBL Implementation and Optimization};

% ================= Financial management
\node[pbox, docs, dtr, minimum width=24pt, minimum height=18pt] (econP) at (240,634) {Economic\\Analysis\\(MAIS)};
\node[pbox, fb] (cardP) at (214,650) {CARD};
\node[pbox, fb] (cceP) at (229,650) {CCE};
\node[pbox, fb] (ccpP) at (245,650) {CCP};
\node[pbox, fb, text=rtx] (iceP) at (260,650) {ICE};
\node[tiny, font=\fsz{3.2}{3.6}\bfseries] (fmlP1) at (222,658.5) {MDD/MS A};
\node[tiny, font=\fsz{3.2}{3.6}\bfseries] (fmlP2) at (253,658.5) {MS A};
\coordinate (icePe) at (272,650);
\draw[arP, line width=0.9pt] (iceP.east) -- (icePe);
\node[bbox, docs, dtr, minimum width=23pt, minimum height=18pt] (econB) at (450,634) {Economic\\Analysis\\(MAIS)};
\node[bbox, fb] (cardB) at (438,651) {CARD};
\node[bbox, fb] (cceB) at (454,651) {CCE};
\node[bbox, fb] (ccpB) at (469,651) {CCP};
\node[bbox, fb, text=rtx] (iceB) at (484,651) {ICE};
\coordinate (iceBe) at (497,651);
\draw[arB, line width=0.9pt] (iceB.east) -- (iceBe);
\node[tiny, font=\fsz{3.2}{3.6}\bfseries] (fmlB1) at (446,659.5) {MDD/MS B/RFP};
\node[tiny, font=\fsz{3.2}{3.6}\bfseries] (fmlB2) at (477,659.5) {MDAP MDAP};
\node[obox, fb] (cardO) at (578,651) {CARD};
\node[obox, fb] (cceO) at (594,651) {CCE};
\node[obox, fb] (ccpO) at (610,651) {CCP};
\node[obox, fb, text=rtx] (iceO) at (625,651) {ICE};
\coordinate (iceOe) at (638,651);
\draw[arO, line width=0.9pt] (iceO.east) -- (iceOe);
\node[tiny, font=\fsz{3.2}{3.6}\bfseries] (fmlO1) at (585,659.5) {MDD/MS C/FRP};
\node[tiny, font=\fsz{3.2}{3.6}\bfseries] (fmlO2) at (617,659.5) {MDAP MDAP};
\node[gbox, docs, dtr, minimum width=26pt, minimum height=19pt] (econG) at (704,635) {Economic\\Analysis\\(MAIS)};
\node[gbox, docs, dtr, minimum width=25pt, minimum height=17pt] (manG) at (735,633) {Manpower\\Estimate};
\node[gbox, fb] (cardG) at (695,651) {CARD};
\node[gbox, fb] (cceG) at (711,651) {CCE};
\node[gbox, fb] (ccpG) at (727,651) {CCP};
\node[gbox, fb, text=rtx] (iceG) at (742,651) {ICE};
\coordinate (iceGe) at (755,651);
\draw[arG, line width=0.9pt] (iceG.east) -- (iceGe);
\node[tiny, font=\fsz{3.2}{3.6}\bfseries] (fmlG1) at (702,659.5) {MDD/MS C/FRP};
\node[tiny, font=\fsz{3.2}{3.6}\bfseries] (fmlG2) at (736,659.5) {MDAP MDAP};

% appropriation bar
\node[font=\fsz{6.4}{7}\bfseries, text=black!80] (appT) at (104,668) {Appropriation Types};
\shade[left color=pinkb!70, right color=pinkb] (157,662) -- (655,662) -- (712,677) -- (157,677) -- cycle;
\shade[left color=pinkb!40!bl, right color=bl!70!bf] (655,662) -- (857,662) -- (817,677) -- (712,677) -- cycle;
\shade[left color=oliv!35, right color=oliv!80] (857,662) -- (951,662) -- (951,677) -- (817,677) -- cycle;
\draw[black!80, line width=0.9pt] (157,662) rectangle (951,677);
\node[font=\fsz{6}{7}\bfseries, text=black!80] (rdte) at (197,669.5) {RDT\&E};
\node[font=\fsz{6.6}{7}, text=black!80] (proc) at (798,669.5) {Procurement};
\node[font=\fsz{6.6}{7}, text=black!80] (onm) at (903,669.5) {Operations \& Maintenance};
\node[ffd] (ffd1) at (273,669) {Full\\Funding in\\FYDP};
\node[ffd] (ffd2) at (500,669) {Full\\Funding in\\FYDP};
\node[ffd] (ffd3) at (646,668) {Full\\Funding in\\FYDP};
\node[ffd] (ffd4) at (759,668) {Full\\Funding in\\FYDP};
\node[pbox, font=\fsz{3.5}{4}\bfseries, text=btx, minimum width=29pt, minimum height=12pt] (affP) at (162,683) {Affordability\\Analysis};
\node[bbox, font=\fsz{3.5}{4}\bfseries, text=btx, minimum width=28pt, minimum height=12pt] (affB) at (429,669) {Affordability\\Analysis};
\node[obox, font=\fsz{3.5}{4}\bfseries, text=btx, minimum width=30pt, minimum height=13pt] (affO) at (612,669) {Affordability\\Analysis};
\node[gbox, font=\fsz{3.5}{4}\bfseries, text=btx, minimum width=30pt, minimum height=13pt] (affG) at (727,669) {Affordability\\Analysis};
\node[tgt] (tg1) at (259,688) {};
\node[tgt] (tg2) at (430,688) {};
\node[tgt] (tg3) at (633,688) {};
\node[tgt] (tg4) at (750,688) {};
\node[tiny, font=\fsz{3.5}{4}\bfseries, text=btx] (sct1) at (241,683) {Should Cost\\Targets};
\node[tiny, font=\fsz{3.5}{4}\bfseries, text=btx] (sct2) at (412,682) {Should Cost\\Targets};
\node[tiny, font=\fsz{3.5}{4}\bfseries, text=btx] (sct3) at (613,683) {Should Cost\\Targets};
\node[tiny, font=\fsz{3.5}{4}\bfseries, text=btx] (sct4) at (731,682) {Should Cost\\Targets};
\coordinate (affBe) at (482,669);
\coordinate (tg2e) at (482,688);
\coordinate (tg4e) at (942,688);
\draw[arB, line width=1.2pt] (affB.east) -- (affBe);
\draw[arB, line width=1.2pt] (tg2.east) -- (tg2e);
\draw[ar, draw=oliv!80!black, line width=1.3pt] (tg4.east) -- (tg4e);
\end{tikzpicture}
\end{document}
